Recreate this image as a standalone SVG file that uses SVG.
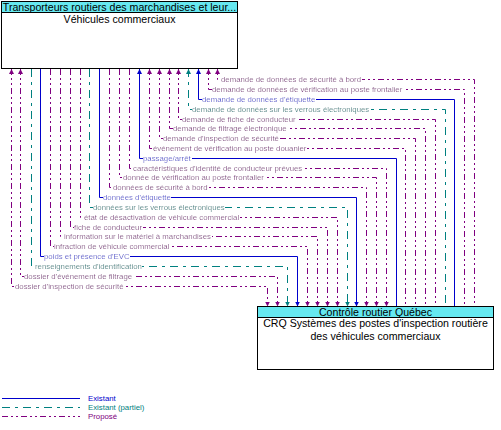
<svg xmlns="http://www.w3.org/2000/svg" width="501" height="430" viewBox="0 0 501 430">
<style>
.box{fill:#fff;stroke:#000;stroke-width:1}
.hdr{fill:#66E8F0;stroke:#000;stroke-width:1}
.nt{font-family:"Liberation Sans",Arial,sans-serif;font-size:10.6px;fill:#000;text-anchor:middle}
.c{fill:none;stroke-width:1}
.ex{stroke:#0000CC}
.pa{stroke:#008080;stroke-dasharray:8 5 3 5}
.pr{stroke:#800080;stroke-dasharray:6 3 2 3 2 3}
.lb{font-family:"Liberation Sans",Arial,sans-serif;font-size:7.8px;filter:url(#bg)}
.lex{fill:#0000CC}
.lpa{fill:#008080}
.lpr{fill:#800080}
.lg{font-family:"Liberation Sans",Arial,sans-serif;font-size:7.8px}
</style>
<defs>
<filter id="bg" x="0" y="0" width="1" height="1"><feFlood flood-color="#ffffff"/><feComposite in="SourceGraphic" operator="over"/></filter>
<marker id="aP" viewBox="0 0 10 10" refX="10" refY="5" markerWidth="5" markerHeight="5" markerUnits="userSpaceOnUse" orient="auto-start-reverse"><path d="M0,0 L10,5 L0,10 z" fill="#800080"/></marker>
<marker id="aB" viewBox="0 0 10 10" refX="10" refY="5" markerWidth="5" markerHeight="5" markerUnits="userSpaceOnUse" orient="auto-start-reverse"><path d="M0,0 L10,5 L0,10 z" fill="#0000CC"/></marker>
<marker id="aT" viewBox="0 0 10 10" refX="10" refY="5" markerWidth="5" markerHeight="5" markerUnits="userSpaceOnUse" orient="auto-start-reverse"><path d="M0,0 L10,5 L0,10 z" fill="#008080"/></marker>
</defs>

<g id="connectors">
<path class="c pr" marker-start="url(#aP)" d="M217.5,69 V79.5 H474.5 V306.5"/>
<path class="c pr" marker-start="url(#aP)" d="M208.5,69 V89.5 H464.5 V306.5"/>
<path class="c ex" marker-start="url(#aB)" d="M198.5,69 V99.5 H454.5 V306.5"/>
<path class="c pa" marker-start="url(#aT)" d="M188.5,69 V109.5 H445.5 V306.5"/>
<path class="c pr" marker-start="url(#aP)" d="M178.5,69 V119.5 H435.5 V306.5"/>
<path class="c pr" marker-start="url(#aP)" d="M169.5,69 V128.5 H425.5 V306.5"/>
<path class="c pr" marker-start="url(#aP)" d="M159.5,69 V138.5 H415.5 V306.5"/>
<path class="c pr" marker-start="url(#aP)" d="M149.5,69 V148.5 H405.5 V306.5"/>
<path class="c ex" marker-start="url(#aB)" d="M139.5,69 V158.5 H396.5 V306.5"/>
<path class="c pr" marker-end="url(#aP)" d="M129.5,69 V168.5 H386.5 V306.5"/>
<path class="c pr" marker-end="url(#aP)" d="M119.5,69 V177.5 H376.5 V306.5"/>
<path class="c pr" marker-end="url(#aP)" d="M109.5,69 V187.5 H366.5 V306.5"/>
<path class="c ex" marker-end="url(#aB)" d="M99.5,69 V197.5 H356.5 V306.5"/>
<path class="c pa" marker-end="url(#aT)" d="M89.5,69 V207.5 H347.5 V306.5"/>
<path class="c pr" marker-end="url(#aP)" d="M80.5,69 V217.5 H337.5 V306.5"/>
<path class="c pr" marker-end="url(#aP)" d="M70.5,69 V227.5 H327.5 V306.5"/>
<path class="c pr" marker-end="url(#aP)" d="M60.5,69 V236.5 H317.5 V306.5"/>
<path class="c pr" marker-end="url(#aP)" d="M50.5,69 V246.5 H307.5 V306.5"/>
<path class="c ex" marker-end="url(#aB)" d="M40.5,69 V256.5 H297.5 V306.5"/>
<path class="c pa" marker-end="url(#aT)" d="M31.5,69 V266.5 H287.5 V306.5"/>
<path class="c pr" marker-start="url(#aP)" marker-end="url(#aP)" d="M20.5,69 V276.5 H277.5 V306.5"/>
<path class="c pr" marker-start="url(#aP)" marker-end="url(#aP)" d="M11.5,69 V286.5 H267.5 V306.5"/>

<text class="lb lpr" x="221" y="82.3">demande de données de sécurité à bord</text>
<text class="lb lpr" x="212" y="92.3">demande de données de vérification au poste frontalier</text>
<text class="lb lex" x="202" y="102.3">demande de données d'étiquette</text>
<text class="lb lpa" x="192" y="112.3">demande de données sur les verrous électroniques</text>
<text class="lb lpr" x="182" y="122.3">demande de fiche de conducteur</text>
<text class="lb lpr" x="173" y="131.3">demande de filtrage électronique</text>
<text class="lb lpr" x="163" y="141.3">demande d'inspection de sécurité</text>
<text class="lb lpr" x="153" y="151.3">événement de vérification au poste douanier</text>
<text class="lb lex" x="143" y="161.3">passage/arrêt</text>
<text class="lb lpr" x="133" y="171.3">caractéristiques d'identité de conducteur prévues</text>
<text class="lb lpr" x="123" y="180.3">donnée de vérification au poste frontalier</text>
<text class="lb lpr" x="113" y="190.3">données de sécurité à bord</text>
<text class="lb lex" x="103" y="200.3">données d'étiquette</text>
<text class="lb lpa" x="93" y="210.3">données sur les verrous électroniques</text>
<text class="lb lpr" x="84" y="220.3">état de désactivation de véhicule commercial</text>
<text class="lb lpr" x="74" y="230.3">fiche de conducteur</text>
<text class="lb lpr" x="64" y="239.3">information sur le matériel à marchandises</text>
<text class="lb lpr" x="54" y="249.3">infraction de véhicule commercial</text>
<text class="lb lex" x="44" y="259.3">poids et présence d'EVC</text>
<text class="lb lpa" x="35" y="269.3">renseignements d'identification</text>
<text class="lb lpr" x="24" y="279.3">dossier d'événement de filtrage</text>
<text class="lb lpr" x="15" y="289.3">dossier d'inspection de sécurité</text>
</g>

<g id="node-vehicules">
<rect class="box" x="1.5" y="1.5" width="236" height="67"/>
<rect class="hdr" x="1.5" y="1.5" width="236" height="11"/>
<text class="nt" x="119.5" y="10.5">Transporteurs routiers des marchandises et leur...</text>
<text class="nt" x="119.5" y="22.5">Véhicules commerciaux</text>
</g>

<g id="node-crq">
<rect class="box" x="257.5" y="306.5" width="236" height="63"/>
<rect class="hdr" x="257.5" y="306.5" width="236" height="11"/>
<text class="nt" x="375.5" y="315.5">Contrôle routier Québec</text>
<text class="nt" x="375.5" y="327">CRQ Systèmes des postes d'inspection routière</text>
<text class="nt" x="375.5" y="340">des véhicules commerciaux</text>
</g>

<g id="legend">
<line class="c ex" x1="2" y1="398.5" x2="80" y2="398.5"/>
<line class="c pa" x1="2" y1="407.5" x2="80" y2="407.5"/>
<line class="c pr" x1="2" y1="416.5" x2="80" y2="416.5"/>
<text class="lg lex" x="88" y="401.3">Existant</text>
<text class="lg lpa" x="88" y="410.3">Existant (partiel)</text>
<text class="lg lpr" x="88" y="419.3">Proposé</text>
</g>
</svg>
